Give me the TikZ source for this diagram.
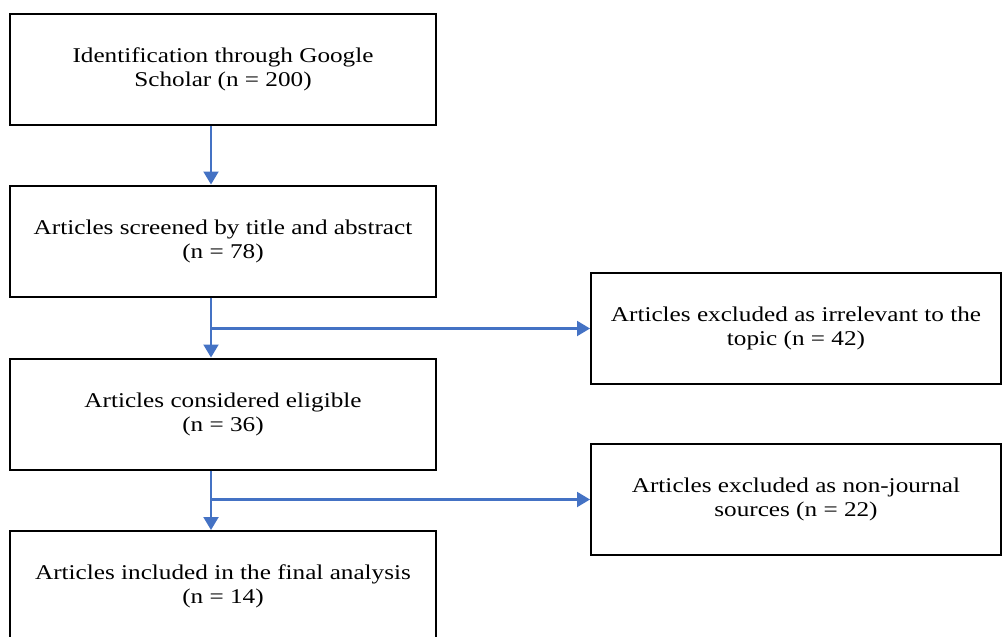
\documentclass[tikz,border=0pt]{standalone}
\usepackage{fontspec}
\setmainfont{Liberation Serif}[FakeStretch=1.2]
\usetikzlibrary{arrows.meta}
\definecolor{flowblue}{RGB}{68,114,196}

\begin{document}
\begin{tikzpicture}[x=0.5pt, y=-0.5pt,
  box/.style = {shape=rectangle, draw, line width=1pt,
    align=center, font=\fontsize{10.5}{12}\selectfont,
    minimum height=55.5pt},
  mainbox/.style = {box, minimum width=213pt},
  sidebox/.style = {box, minimum width=205pt},
  flow/.style = {draw=flowblue, line width=1.1pt,
    -{Triangle[width=7.5pt,length=6.5pt]}}]
  \useasboundingbox (0,0) rectangle (1003,637);
  \coordinate (spine) at (211,0);
  % main column
  \node[mainbox] (ident) at (223,69.5) {Identification through Google\\Scholar (n = 200)};
  \node[mainbox] (screen) at (223,241) {Articles screened by title and abstract\\(n = 78)};
  \node[mainbox] (eligible) at (223,414) {Articles considered eligible\\(n = 36)};
  \node[mainbox] (included) at (223,586.5) {Articles included in the final analysis\\(n = 14)};
  % exclusions
  \node[sidebox] (irrel) at (796,328.5) {Articles excluded as irrelevant to the\\topic (n = 42)};
  \node[sidebox] (nonjour) at (796,499.5) {Articles excluded as non-journal\\sources (n = 22)};
  % connectors
  \draw[flow] (ident.south -| spine) -- (screen.north -| spine);
  \draw[flow] (screen.south -| spine) -- (eligible.north -| spine);
  \draw[flow] (spine |- irrel.west) -- (irrel.west);
  \draw[flow] (eligible.south -| spine) -- (included.north -| spine);
  \draw[flow] (spine |- nonjour.west) -- (nonjour.west);
\end{tikzpicture}
\end{document}
